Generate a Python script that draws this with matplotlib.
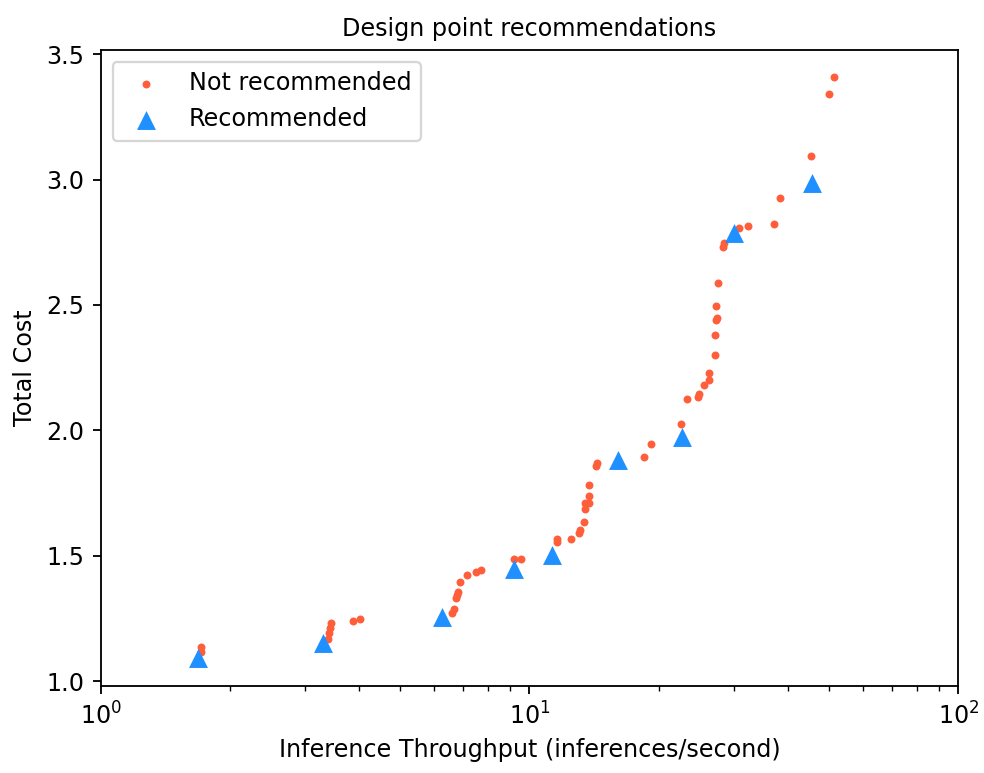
import matplotlib

matplotlib.use("Agg")
import matplotlib.pyplot as plt

# throughput (inferences/s) and total cost for every evaluated design point
other_tput = [
    1.714, 1.714,
    3.445, 3.427, 3.41, 3.39, 3.87, 4.03,
    6.59, 6.67, 6.73, 6.76, 6.83, 6.89, 7.16, 7.51, 7.72,
    9.21, 9.54,
    11.58, 11.6, 12.49, 13.05, 13.1, 13.43, 13.48, 13.48, 13.75, 13.75,
    13.75, 14.30, 14.36,
    18.48, 19.19,
    22.61, 23.28, 24.77, 24.85, 25.54, 26.24, 26.24, 27.05, 27.05, 27.2,
    27.3, 27.25, 27.54, 28.24, 28.49, 30.83, 32.24, 37.07, 38.48,
    45.39, 49.81, 51.28,
]
other_cost = [
    1.137, 1.117,
    1.231, 1.211, 1.191, 1.168, 1.24, 1.249,
    1.270, 1.288, 1.330, 1.343, 1.356, 1.394, 1.422, 1.436, 1.443,
    1.485, 1.485,
    1.565, 1.553, 1.565, 1.592, 1.602, 1.635, 1.685, 1.711, 1.711, 1.739,
    1.781, 1.858, 1.871,
    1.892, 1.947,
    2.024, 2.125, 2.134, 2.144, 2.182, 2.202, 2.230, 2.299, 2.381, 2.440,
    2.447, 2.497, 2.589, 2.732, 2.746, 2.808, 2.816, 2.824, 2.927,
    3.093, 3.341, 3.410,
]

# recommended (pareto) design points
rec_tput = [1.686, 3.296, 6.244, 9.22, 11.31, 16.09, 22.7, 29.99, 45.47]
rec_cost = [1.091, 1.153, 1.255, 1.447, 1.503, 1.883, 1.973, 2.788, 2.987]

plt.rcParams["font.size"] = 10.4

DPI = 165
fig = plt.figure(figsize=(984 / DPI, 773 / DPI), dpi=DPI)
ax = fig.add_axes([0.1023, 0.1125, 0.8716, 0.8228])

ax.scatter(other_tput, other_cost, s=12, color="#ff5e3a", linewidths=0,
           label="Not recommended")
ax.scatter(rec_tput, rec_cost, s=68, marker="^", color="dodgerblue",
           linewidths=0, label="Recommended")

ax.set_xscale("log")
ax.set_xlim(1, 100)
ax.set_ylim(0.980, 3.517)
ax.set_xlabel("Inference Throughput (inferences/second)")
ax.set_ylabel("Total Cost")
ax.set_title("Design point recommendations", fontsize=10.4)
ax.legend(loc="upper left")

fig.savefig("out.png", dpi=DPI)
